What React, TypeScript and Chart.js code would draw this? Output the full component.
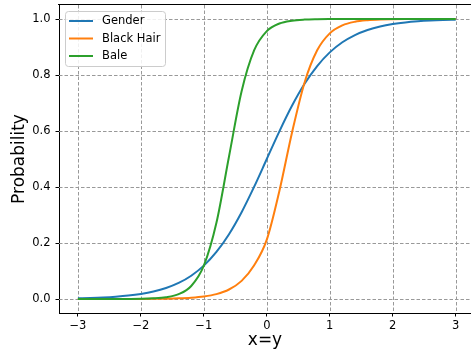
import React, { useEffect, useRef } from 'react';
import { Chart, registerables } from 'chart.js';

Chart.register(...registerables);

// x positions sampled along the curves
const xValues = [
  -3.0, -2.8, -2.6, -2.4, -2.2, -2.0, -1.8, -1.6, -1.4, -1.2, -1.0,
  -0.8, -0.6, -0.4, -0.2, 0.0, 0.2, 0.4, 0.6, 0.8, 1.0,
  1.2, 1.4, 1.6, 1.8, 2.0, 2.2, 2.4, 2.6, 2.8, 3.0,
];

const gender = [
  0.0025, 0.0037, 0.0055, 0.0082, 0.0121, 0.018, 0.0266, 0.0392, 0.0573, 0.0832, 0.1192,
  0.168, 0.2315, 0.31, 0.4013, 0.5, 0.5987, 0.69, 0.7685, 0.832, 0.8808,
  0.9168, 0.9427, 0.9608, 0.9734, 0.982, 0.9879, 0.9918, 0.9945, 0.9963, 0.9975,
];

const blackHair = [
  0.0, 0.0, 0.0001, 0.0001, 0.0002, 0.0003, 0.0006, 0.0012, 0.0023, 0.0045, 0.0089,
  0.0175, 0.0339, 0.0648, 0.1203, 0.212, 0.386, 0.594, 0.7735, 0.8883, 0.9488,
  0.9774, 0.9902, 0.9957, 0.9982, 0.9992, 0.9997, 0.9999, 1.0, 1.0, 1.0,
];

const bale = [
  0.0, 0.0, 0.0, 0.0001, 0.0003, 0.0008, 0.0023, 0.0063, 0.0173, 0.0465, 0.119,
  0.272, 0.509, 0.742, 0.8885, 0.9568, 0.984, 0.9941, 0.9979, 0.9992, 0.9997,
  0.9999, 1.0, 1.0, 1.0, 1.0, 1.0, 1.0, 1.0, 1.0, 1.0,
];

const seriesNames = ['Gender', 'Black Hair', 'Bale'];
const seriesColors = ['#1f77b4', '#ff7f0e', '#2ca02c'];

const xTicks = [-3, -2, -1, 0, 1, 2, 3];
const yTicks = [0.0, 0.2, 0.4, 0.6, 0.8, 1.0];

const xTitle = 'x=y';
const yTitle = 'Probability';

const FONT = "'DejaVu Sans', sans-serif";
const GRID_DASH = [3.5, 2];

export default function App() {
  const canvasRef = useRef<HTMLCanvasElement>(null);

  useEffect(() => {
    const canvas = canvasRef.current;
    if (!canvas) return;
    const seriesValues = [gender, blackHair, bale];

    const strokeYGrid = (chart: any) => {
      const { ctx, chartArea, scales } = chart;
      yTicks.forEach((v) => {
        const py = Math.round(scales.y.getPixelForValue(v)) + 0.5;
        ctx.beginPath();
        ctx.moveTo(chartArea.left, py);
        ctx.lineTo(chartArea.right, py);
        ctx.stroke();
      });
    };

    const drawTopSpine = (chart: any) => {
      const { ctx, chartArea } = chart;
      ctx.save();
      ctx.strokeStyle = '#000';
      ctx.lineWidth = 1;
      ctx.setLineDash([]);
      const t = Math.round(chartArea.top) - 0.5;
      ctx.beginPath();
      ctx.moveTo(Math.round(chartArea.left) - 1, t);
      ctx.lineTo(chartArea.right + 1, t);
      ctx.stroke();
      ctx.restore();
    };

    // dashed grid at the tick positions, drawn below the curves
    const gridPlugin = {
      id: 'dashedGrid',
      beforeDatasetsDraw(chart: any) {
        const { ctx, chartArea, scales } = chart;
        ctx.save();
        ctx.strokeStyle = '#999999';
        ctx.lineWidth = 1;
        ctx.setLineDash(GRID_DASH);
        xTicks.forEach((v) => {
          const px = Math.round(scales.x.getPixelForValue(v)) + 0.5;
          ctx.beginPath();
          ctx.moveTo(px, chartArea.top);
          ctx.lineTo(px, chartArea.bottom);
          ctx.stroke();
        });
        strokeYGrid(chart);
        ctx.restore();
      },
      afterDatasetsDraw(chart: any) {
        drawTopSpine(chart);
      },
      afterDraw(chart: any) {
        // the figure is cut before its right spine: keep the right edge open
        const { ctx, chartArea } = chart;
        const x0 = chartArea.right - 5;
        const y0 = Math.round(chartArea.top) + 0.5;
        const h = Math.round(chartArea.bottom) - 1 - y0;
        ctx.save();
        ctx.fillStyle = '#ffffff';
        ctx.fillRect(x0, y0, 10, h);
        ctx.beginPath();
        ctx.rect(x0, y0, 10, h);
        ctx.clip();
        ctx.strokeStyle = '#999999';
        ctx.lineWidth = 1;
        ctx.setLineDash(GRID_DASH);
        strokeYGrid(chart);
        ctx.restore();
        drawTopSpine(chart);
      },
    };

    const legendPlugin = {
      id: 'innerLegend',
      afterDraw(chart: any) {
        const { ctx } = chart;
        ctx.save();
        const bx = 65.5, by = 11.5, bw = 100, bh = 55;
        ctx.beginPath();
        if ((ctx as any).roundRect) {
          (ctx as any).roundRect(bx, by, bw, bh, 3);
        } else {
          ctx.rect(bx, by, bw, bh);
        }
        ctx.fillStyle = 'rgba(255,255,255,0.85)';
        ctx.fill();
        ctx.strokeStyle = '#cccccc';
        ctx.lineWidth = 1;
        ctx.stroke();
        const rowsY = [21, 38.5, 56];
        ctx.font = `11.5px ${FONT}`;
        ctx.textBaseline = 'middle';
        ctx.textAlign = 'left';
        seriesNames.forEach((name, i) => {
          ctx.strokeStyle = seriesColors[i];
          ctx.lineWidth = 2;
          ctx.beginPath();
          ctx.moveTo(69, rowsY[i]);
          ctx.lineTo(93, rowsY[i]);
          ctx.stroke();
          ctx.fillStyle = '#000';
          ctx.fillText(name, 102, rowsY[i] + 0.5);
        });
        ctx.restore();
      },
    };

    const axisGrid = {
      display: true,
      drawOnChartArea: false,
      drawTicks: true,
      tickLength: 3.5,
      tickColor: '#000',
      tickWidth: 1,
      tickBorderDash: [],
      color: '#000',
    };

    const chart = new Chart(canvas, {
      type: 'line',
      data: {
        datasets: seriesNames.map((name, i) => ({
          label: name,
          data: xValues.map((x, j) => ({ x, y: seriesValues[i][j] })),
          borderColor: seriesColors[i],
          backgroundColor: seriesColors[i],
          borderWidth: 2,
          pointRadius: 0,
          pointHoverRadius: 0,
          fill: false,
          cubicInterpolationMode: 'monotone',
          order: 3 - i,
        })),
      },
      options: {
        animation: false,
        responsive: false,
        devicePixelRatio: 1,
        layout: { padding: { left: 0, top: 5, right: 0, bottom: 0 } },
        plugins: {
          legend: { display: false },
          tooltip: { enabled: false },
        },
        scales: {
          x: {
            type: 'linear',
            min: -3.3,
            max: 3.243,
            afterBuildTicks: (scale: any) => {
              scale.ticks = xTicks.map((v) => ({ value: v }));
            },
            afterFit: (scale: any) => {
              scale.height = 41;
              scale.paddingLeft = 0;
              scale.paddingRight = 0;
              scale.paddingTop = 0;
              scale.paddingBottom = 0;
            },
            ticks: {
              autoSkip: false,
              maxRotation: 0,
              minRotation: 0,
              padding: 2.5,
              color: '#000',
              font: { family: FONT, size: 11.5 },
              callback: (v: any) => {
                const n = Number(v);
                return n < 0 ? '\u2212' + Math.abs(n) : String(n);
              },
            },
            grid: axisGrid,
            border: { display: true, color: '#000', width: 1 },
            title: {
              display: true,
              text: xTitle,
              color: '#000',
              font: { family: FONT, size: 17 },
              padding: { top: 0, bottom: 3 },
            },
          },
          y: {
            type: 'linear',
            min: -0.05,
            max: 1.05,
            afterBuildTicks: (scale: any) => {
              scale.ticks = yTicks.map((v) => ({ value: v }));
            },
            afterFit: (scale: any) => {
              scale.width = 59;
              scale.paddingLeft = 0;
              scale.paddingRight = 0;
              scale.paddingTop = 0;
              scale.paddingBottom = 0;
            },
            ticks: {
              autoSkip: false,
              padding: 5,
              color: '#000',
              font: { family: FONT, size: 11.5 },
              callback: (v: any) => Number(v).toFixed(1),
            },
            grid: axisGrid,
            border: { display: true, color: '#000', width: 1 },
            title: {
              display: true,
              text: yTitle,
              color: '#000',
              font: { family: FONT, size: 17 },
              padding: { top: 9.5, bottom: 0 },
            },
          },
        },
      } as any,
      plugins: [gridPlugin, legendPlugin],
    });

    return () => {
      chart.destroy();
    };
  }, []);

  return (
    <div
      style={{
        position: 'absolute',
        left: 0,
        top: 0,
        width: 471,
        height: 354,
        overflow: 'hidden',
        background: '#fff',
      }}
    >
      <canvas ref={canvasRef} width={471} height={354} style={{ display: 'block' }} />
    </div>
  );
}
